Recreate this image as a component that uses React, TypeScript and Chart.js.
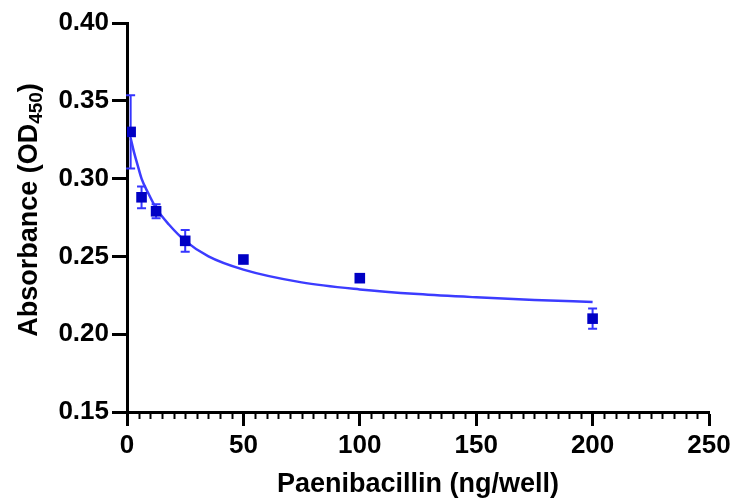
import React, { useEffect, useRef } from "react";
import { Chart, registerables } from "chart.js";

Chart.register(...registerables);

// Measured points (mean ± SD)
const doses = [1.5625, 6.25, 12.5, 25, 50, 100, 200];
const absorbance = [0.33, 0.288, 0.279, 0.26, 0.248, 0.236, 0.21];
const sd = [0.0235, 0.007, 0.0045, 0.007, 0, 0, 0.0065];

// Fitted curve
const curveX = [1.5625, 3, 4.5, 6.25, 9, 12.5, 18, 25, 35, 50, 75, 100, 125, 150, 175, 200];
const curveY = [0.326, 0.317, 0.309, 0.3, 0.291, 0.281, 0.2705, 0.26, 0.25, 0.2415, 0.2333, 0.2288, 0.2258, 0.2237, 0.222, 0.2207];

const yTicks = [0.15, 0.2, 0.25, 0.3, 0.35, 0.4];
const xTicks = [0, 50, 100, 150, 200, 250];

const FONT = "'Liberation Sans', Arial, Helvetica, sans-serif";
const POINT_COLOR = "#0000c4";
const LINE_COLOR = "#3c3cff";
const ERR_COLOR = "#3535ff";

const errorBarPlugin = {
  id: "errorBars",
  beforeDatasetsDraw(chart: any) {
    const { ctx, scales } = chart;
    const x = scales.x;
    const y = scales.y;
    ctx.save();
    ctx.strokeStyle = ERR_COLOR;
    ctx.lineWidth = 2;
    doses.forEach((d, i) => {
      if (!sd[i]) return;
      const px = x.getPixelForValue(d);
      const top = y.getPixelForValue(absorbance[i] + sd[i]);
      const bot = y.getPixelForValue(absorbance[i] - sd[i]);
      ctx.beginPath();
      ctx.moveTo(px, top);
      ctx.lineTo(px, bot);
      ctx.moveTo(px - 4.5, top);
      ctx.lineTo(px + 4.5, top);
      ctx.moveTo(px - 4.5, bot);
      ctx.lineTo(px + 4.5, bot);
      ctx.stroke();
    });
    ctx.restore();
  },
};

const decorPlugin = {
  id: "decor",
  afterDraw(chart: any) {
    const { ctx, scales, chartArea } = chart;
    const x = scales.x;
    ctx.save();
    // minor x ticks
    ctx.strokeStyle = "#000";
    ctx.lineWidth = 2;
    for (let v = 5; v < 250; v += 5) {
      if (v % 50 === 0) continue;
      const px = Math.round(x.getPixelForValue(v)) + 0.5;
      ctx.beginPath();
      ctx.moveTo(px, chartArea.bottom);
      ctx.lineTo(px, chartArea.bottom + 7);
      ctx.stroke();
    }
    // x title
    ctx.fillStyle = "#000";
    ctx.font = `bold 27px ${FONT}`;
    ctx.textAlign = "center";
    ctx.textBaseline = "middle";
    ctx.fillText("Paenibacillin (ng/well)", (chartArea.left + chartArea.right) / 2, 485);
    // y title with subscript
    const main = "Absorbance (OD";
    const sub = "450";
    const close = ")";
    ctx.font = `bold 27px ${FONT}`;
    const w1 = ctx.measureText(main).width;
    const w3 = ctx.measureText(close).width;
    ctx.font = `bold 19px ${FONT}`;
    const w2 = ctx.measureText(sub).width;
    const total = w1 + w2 + w3;
    ctx.translate(30, 210);
    ctx.rotate(-Math.PI / 2);
    ctx.textAlign = "left";
    ctx.textBaseline = "middle";
    let cx = -total / 2;
    ctx.font = `bold 27px ${FONT}`;
    ctx.fillText(main, cx, 0);
    cx += w1;
    ctx.font = `bold 19px ${FONT}`;
    ctx.fillText(sub, cx, 7);
    cx += w2;
    ctx.font = `bold 27px ${FONT}`;
    ctx.fillText(close, cx, 0);
    ctx.restore();
  },
};

export default function App() {
  const ref = useRef<HTMLCanvasElement | null>(null);
  useEffect(() => {
    if (!ref.current) return;
    const chart = new Chart(ref.current, {
      type: "scatter",
      data: {
        datasets: [
          {
            type: "line",
            data: curveX.map((v, i) => ({ x: v, y: curveY[i] })),
            borderColor: LINE_COLOR,
            borderWidth: 2.5,
            pointRadius: 0,
            fill: false,
            cubicInterpolationMode: "monotone",
            order: 2,
          } as any,
          {
            type: "scatter",
            data: doses.map((v, i) => ({ x: v, y: absorbance[i] })),
            backgroundColor: POINT_COLOR,
            borderColor: POINT_COLOR,
            borderWidth: 0,
            pointStyle: "rect",
            pointRadius: 7.5,
            order: 1,
          } as any,
        ],
      },
      options: {
        animation: false,
        responsive: false,
        layout: { padding: { top: 23, right: 26, left: 0, bottom: 0 } },
        plugins: { legend: { display: false }, tooltip: { enabled: false } },
        scales: {
          x: {
            type: "linear",
            min: 0,
            max: 250,
            afterFit: (s: any) => {
              s.height = 88;
            },
            afterBuildTicks: (s: any) => {
              s.ticks = xTicks.map((v) => ({ value: v }));
            },
            ticks: {
              color: "#000",
              font: { family: FONT, size: 26, weight: "bold" },
              padding: 4,
              maxRotation: 0,
              callback: (v: any) => String(v),
            },
            grid: {
              display: true,
              drawOnChartArea: false,
              drawTicks: true,
              tickLength: 14,
              tickWidth: 3,
              tickColor: "#000",
            },
            border: { display: true, color: "#000", width: 3 },
          },
          y: {
            type: "linear",
            min: 0.15,
            max: 0.4,
            afterFit: (s: any) => {
              s.width = 127;
            },
            afterBuildTicks: (s: any) => {
              s.ticks = yTicks.map((v) => ({ value: v }));
            },
            ticks: {
              color: "#000",
              font: { family: FONT, size: 26, weight: "bold" },
              padding: 3,
              callback: (v: any) => Number(v).toFixed(2),
            },
            grid: {
              display: true,
              drawOnChartArea: false,
              drawTicks: true,
              tickLength: 15,
              tickWidth: 3,
              tickColor: "#000",
            },
            border: { display: true, color: "#000", width: 3 },
          },
        },
      } as any,
      plugins: [errorBarPlugin, decorPlugin],
    });
    return () => chart.destroy();
  }, []);
  return (
    <div style={{ position: "absolute", left: 0, top: 0, width: 735, height: 500, background: "#fff" }}>
      <canvas ref={ref} width={735} height={500} style={{ display: "block", width: 735, height: 500 }} />
    </div>
  );
}
